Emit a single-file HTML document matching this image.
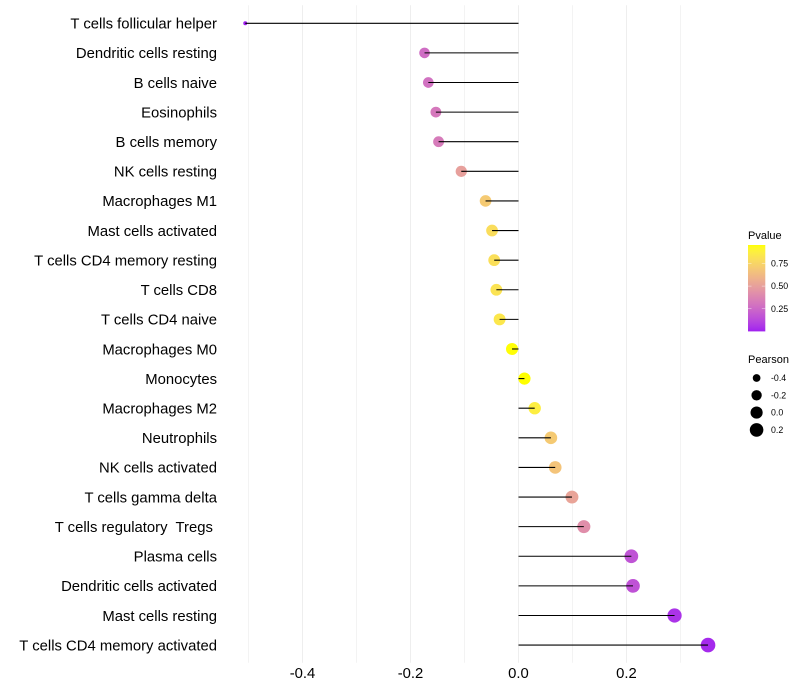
<!DOCTYPE html>
<html>
<head>
<meta charset="utf-8">
<style>
html,body{margin:0;padding:0;background:#fff;width:800px;height:700px;overflow:hidden}
svg{display:block}
text{font-family:"Liberation Sans",Arial,sans-serif;fill:#000;white-space:pre}
</style>
</head>
<body>
<svg id="chart" width="800" height="700" viewBox="0 0 800 700" xmlns="http://www.w3.org/2000/svg">
  <defs>
    <linearGradient id="pgrad" x1="0" y1="1" x2="0" y2="0"></linearGradient>
  </defs>
  <g id="grid"></g>
  <g id="points"></g>
  <g id="segments"></g>
  <g id="ylabels"></g>
  <g id="xlabels"></g>
  <g id="color-legend">
    <text x="748" y="239" font-size="11">Pvalue</text>
    <rect x="748" y="245" width="17.3" height="86.4" fill="url(#pgrad)"></rect>
  </g>
  <g id="size-legend">
    <text x="748" y="363" font-size="11">Pearson</text>
  </g>
</svg>
<script>
const categories = ["T cells follicular helper","Dendritic cells resting","B cells naive","Eosinophils","B cells memory","NK cells resting","Macrophages M1","Mast cells activated","T cells CD4 memory resting","T cells CD8","T cells CD4 naive","Macrophages M0","Monocytes","Macrophages M2","Neutrophils","NK cells activated","T cells gamma delta","T cells regulatory  Tregs ","Plasma cells","Dendritic cells activated","Mast cells resting","T cells CD4 memory activated"];
const pearson = [-0.506,-0.174,-0.167,-0.153,-0.148,-0.106,-0.061,-0.049,-0.045,-0.041,-0.035,-0.012,0.011,0.03,0.06,0.068,0.099,0.121,0.209,0.212,0.289,0.351];
const pvalue = [0.0005,0.27,0.29,0.32,0.33,0.5,0.70,0.79,0.80,0.82,0.84,0.95,0.953,0.87,0.70,0.67,0.52,0.42,0.165,0.16,0.05,0.025];
const xTicks = [-0.4,-0.2,0,0.2];
const xMinorGrid = [-0.5,-0.3,-0.1,0.1,0.3];
const colorTicks = [0.25,0.5,0.75];
const sizeTicks = [-0.4,-0.2,0,0.2];

const NS = "http://www.w3.org/2000/svg";
const x0 = 518.5, xPerUnit = 540;
const rowTop = 23.28, rowStep = 29.61;
const panelTop = 5.2, panelBottom = 662.8;
const xScale = v => x0 + v * xPerUnit;
const yScale = i => rowTop + i * rowStep;
const pMin = Math.min(...pvalue), pMax = Math.max(...pvalue);
const sMin = Math.min(...pearson), sMax = Math.max(...pearson);
const rScale = v => 2 + Math.sqrt((v - sMin) / (sMax - sMin)) * 5.3;

function mk(tag, attrs, parent) {
  const el = document.createElementNS(NS, tag);
  for (const k in attrs) el.setAttribute(k, attrs[k]);
  parent.appendChild(el);
  return el;
}
function rgb2lab(c) {
  const l = c.map(v => { v /= 255; return v > 0.04045 ? Math.pow((v + 0.055) / 1.055, 2.4) : v / 12.92; });
  const X = (0.4124 * l[0] + 0.3576 * l[1] + 0.1805 * l[2]) / 0.95047;
  const Y = 0.2126 * l[0] + 0.7152 * l[1] + 0.0722 * l[2];
  const Z = (0.0193 * l[0] + 0.1192 * l[1] + 0.9505 * l[2]) / 1.08883;
  const f = t => t > 0.008856 ? Math.cbrt(t) : 7.787 * t + 16 / 116;
  return [116 * f(Y) - 16, 500 * (f(X) - f(Y)), 200 * (f(Y) - f(Z))];
}
function lab2rgb(c) {
  const fy = (c[0] + 16) / 116, fx = fy + c[1] / 500, fz = fy - c[2] / 200;
  const g = t => t * t * t > 0.008856 ? t * t * t : (t - 16 / 116) / 7.787;
  const X = g(fx) * 0.95047, Y = g(fy), Z = g(fz) * 1.08883;
  const r = [3.2406 * X - 1.5372 * Y - 0.4986 * Z, -0.9689 * X + 1.8758 * Y + 0.0415 * Z, 0.0557 * X - 0.204 * Y + 1.057 * Z];
  return r.map(v => {
    v = v > 0.0031308 ? 1.055 * Math.pow(v, 1 / 2.4) - 0.055 : 12.92 * v;
    return Math.round(Math.min(1, Math.max(0, v)) * 255);
  });
}
const labLow = rgb2lab([160, 32, 240]), labHigh = rgb2lab([255, 255, 0]);
function colorScale(p) {
  const t = Math.min(1, Math.max(0, (p - pMin) / (pMax - pMin)));
  const m = lab2rgb(labLow.map((v, i) => v + (labHigh[i] - v) * t));
  return "rgb(" + m.join(",") + ")";
}

const grid = document.getElementById("grid");
xMinorGrid.forEach(v => {
  const el = mk("line", {x1: xScale(v), x2: xScale(v), y1: panelTop, y2: panelBottom, stroke: "#f3f3f3", "stroke-width": 1}, grid);
  
  
});
xTicks.forEach(v => {
  const el = mk("line", {x1: xScale(v), x2: xScale(v), y1: panelTop, y2: panelBottom, stroke: "#eeeeee", "stroke-width": 1}, grid);
  
  
});

const pts = document.getElementById("points");
const segs = document.getElementById("segments");
const ylab = document.getElementById("ylabels");
categories.forEach((c, i) => {
  const pt = mk("circle", {cx: xScale(pearson[i]), cy: yScale(i), r: rScale(pearson[i]), fill: colorScale(pvalue[i])}, pts);
  
  
  const sg = mk("line", {x1: xScale(0), x2: xScale(pearson[i]), y1: yScale(i), y2: yScale(i), stroke: "#000", "stroke-width": 1.07}, segs);
  
  
  const t = mk("text", {x: 217, y: yScale(i) + 5.3, "text-anchor": "end", "font-size": 14.85}, ylab);
  
  
  t.textContent = c;
});

const xlab = document.getElementById("xlabels");
xTicks.forEach(v => {
  const t = mk("text", {x: xScale(v), y: 678, "text-anchor": "middle", "font-size": 14.85}, xlab);
  
  
  t.textContent = v.toFixed(1);
});

const grad = document.getElementById("pgrad");
for (let k = 0; k <= 40; k++) {
  const p = pMin + (pMax - pMin) * k / 40;
  mk("stop", {offset: (k / 40 * 100) + "%", "stop-color": colorScale(p)}, grad);
}
const cl = document.getElementById("color-legend");
const barY = p => 245 + (pMax - p) / (pMax - pMin) * 86.4;
colorTicks.forEach(p => {
  const a = mk("line", {x1: 748, x2: 751.5, y1: barY(p), y2: barY(p), stroke: "#fff", "stroke-width": 0.5, opacity: 0.8}, cl);
  
  
  const b = mk("line", {x1: 761.8, x2: 765.3, y1: barY(p), y2: barY(p), stroke: "#fff", "stroke-width": 0.5, opacity: 0.8}, cl);
  
  
  const t = mk("text", {x: 771, y: barY(p) + 3.1, "font-size": 8.8}, cl);
  
  
  t.textContent = p.toFixed(2);
});

const sl = document.getElementById("size-legend");
sizeTicks.forEach((v, i) => {
  const y = 378 + i * 17.3;
  const c = mk("circle", {cx: 756.6, cy: y, r: rScale(v), fill: "#000"}, sl);
  
  
  const t = mk("text", {x: 771, y: y + 3.1, "font-size": 8.8}, sl);
  
  
  t.textContent = v.toFixed(1);
});
</script>
</body>
</html>
